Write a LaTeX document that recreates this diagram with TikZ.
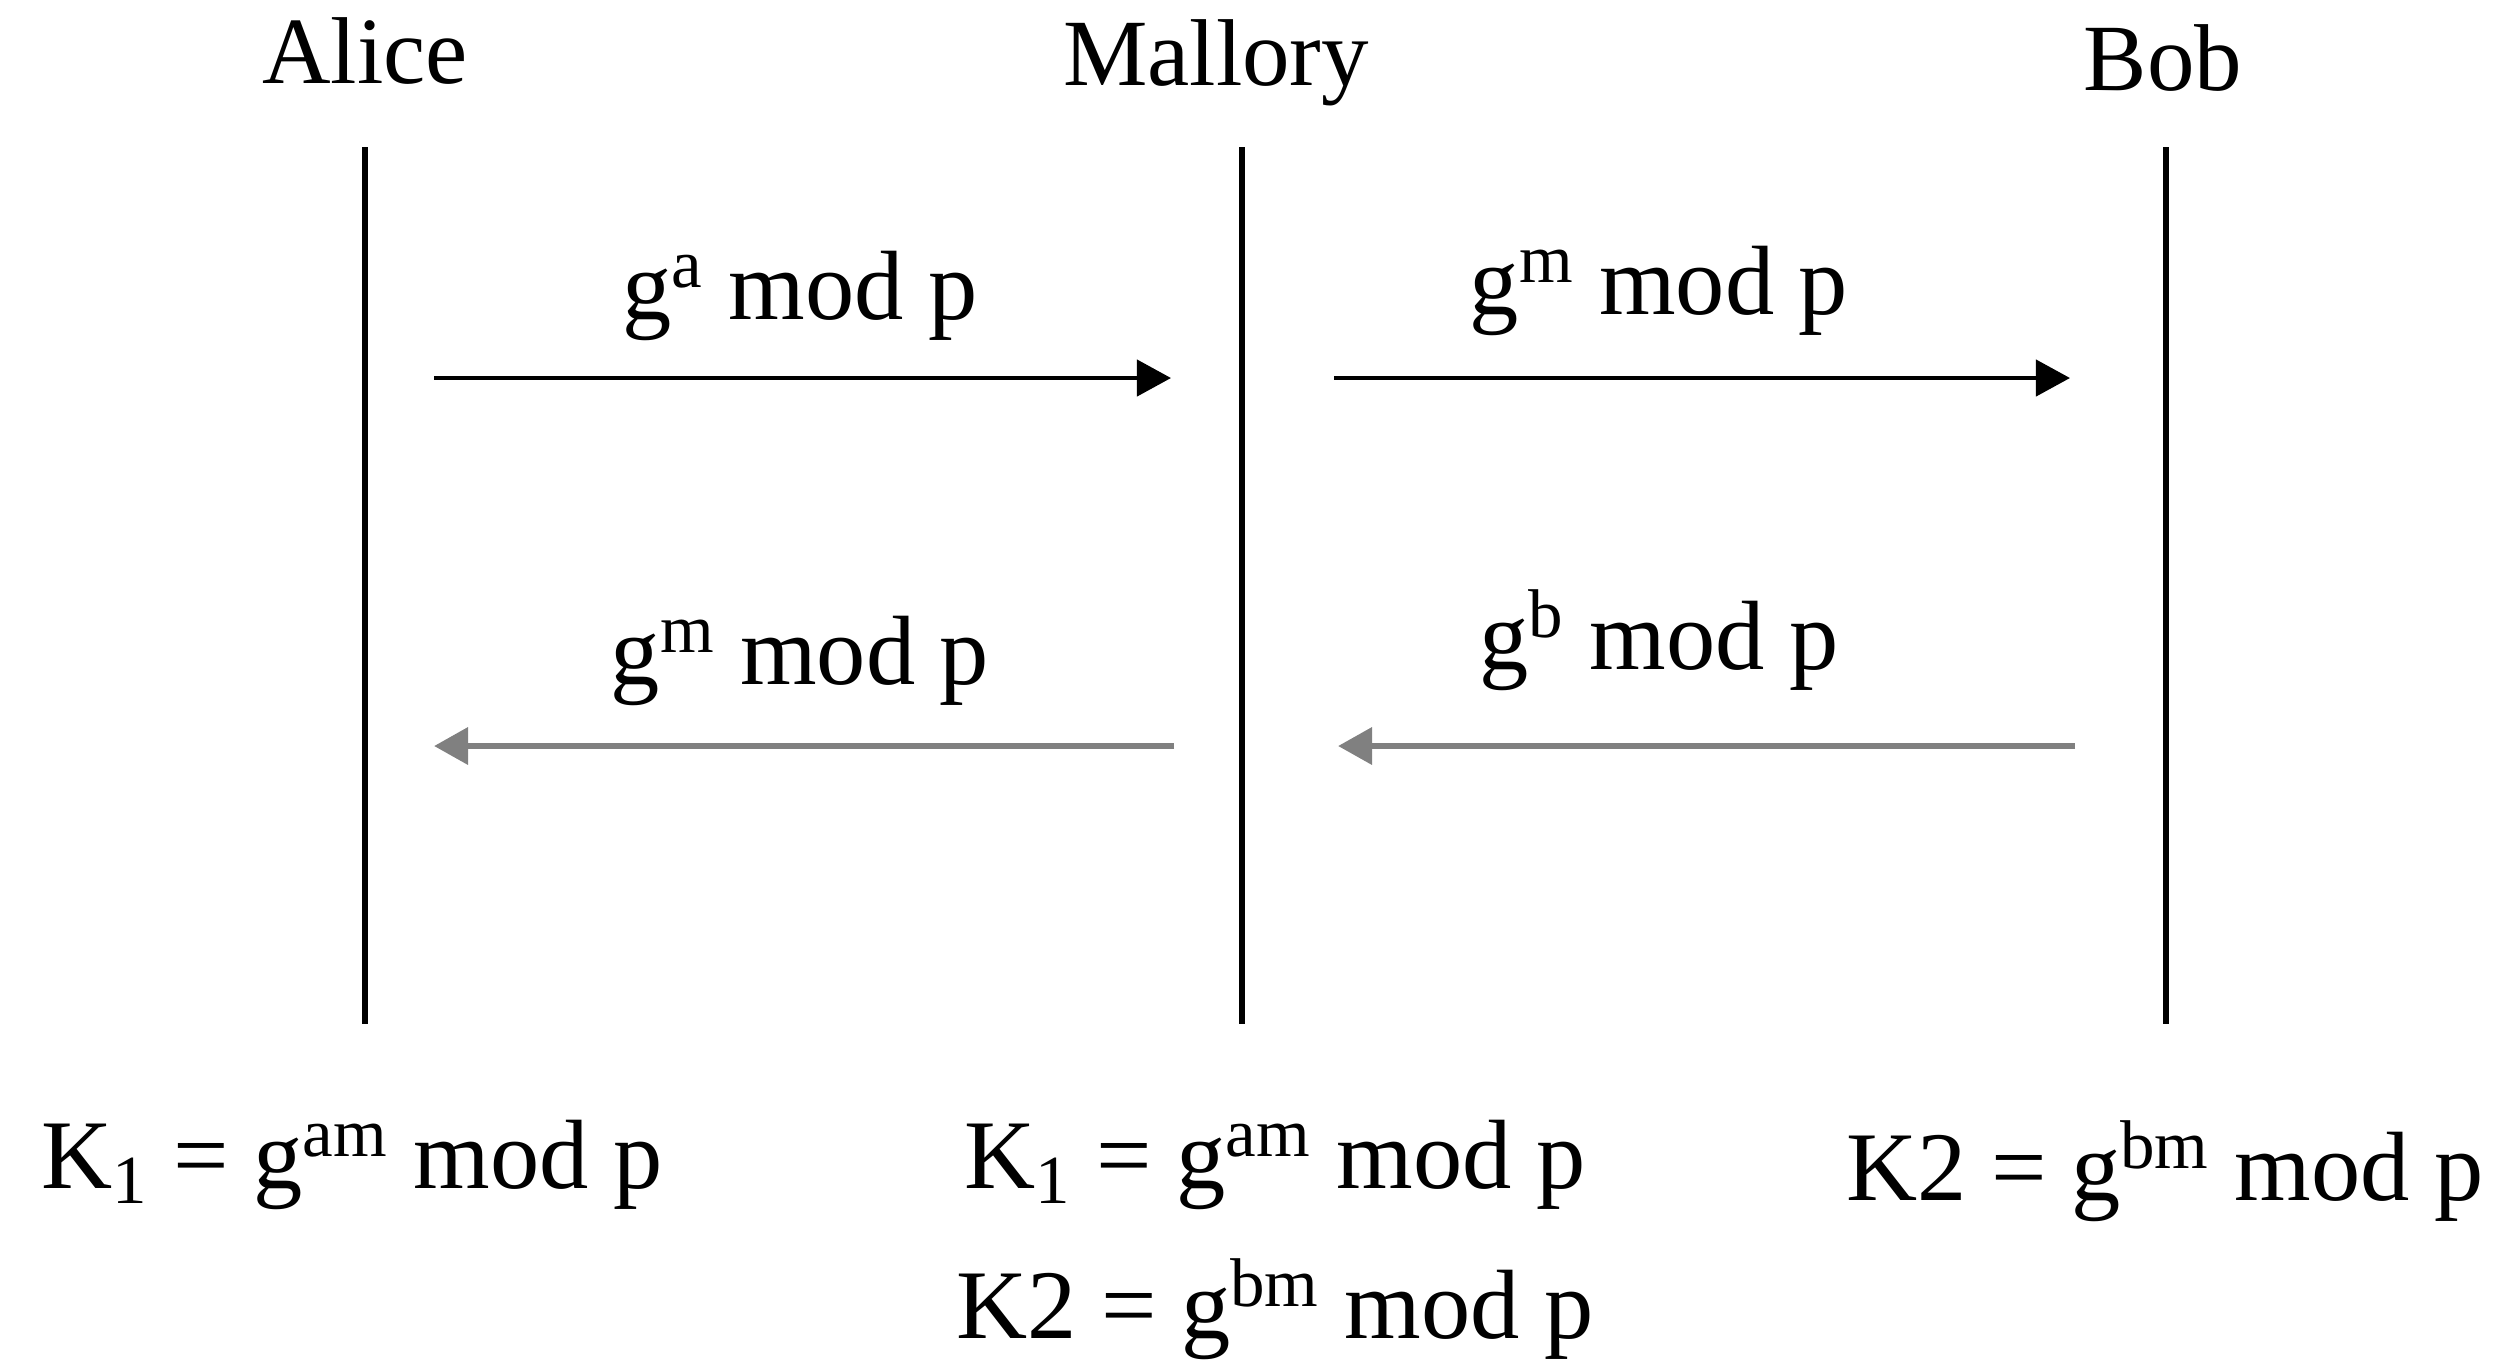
\documentclass[tikz,border=0pt]{standalone}
\usepackage{fontspec}
\setmainfont{Liberation Serif}
\usetikzlibrary{arrows.meta,positioning}

\begin{document}
\begin{tikzpicture}[
    x=0.01cm, y=-0.01cm,
    party/.style={
        font=\fontsize{27}{30}\selectfont,
        inner sep=0pt
    },
    msg/.style={
        font=\fontsize{28}{32}\selectfont,
        inner sep=0pt
    },
    key/.style={
        font=\fontsize{28}{32}\selectfont,
        inner sep=0pt
    },
    lifeline/.style={line width=1.45pt},
    sendarrow/.style={-{Triangle[length=0.34cm, width=0.36cm]}, line width=1.2pt},
    replyarrow/.style={-{Triangle[length=0.34cm, width=0.36cm]}, line width=1.9pt, draw=gray}
]
\useasboundingbox (0,0) rectangle (2508,1362);

% parties
\node[party] (alice) at (365,51) {Alice};
\node[party] (mallory) at (1216,63) {Mallory};
\node[party] (bob) at (2163,58) {Bob};

% lifelines
\coordinate (aliceTop) at (365,147);
\coordinate (aliceEnd) at (365,1024);
\coordinate (malloryTop) at (1242,147);
\coordinate (malloryEnd) at (1242,1024);
\coordinate (bobTop) at (2166,147);
\coordinate (bobEnd) at (2166,1024);
\draw[lifeline] (aliceTop) -- (aliceEnd);
\draw[lifeline] (malloryTop) -- (malloryEnd);
\draw[lifeline] (bobTop) -- (bobEnd);

% messages
\coordinate (sendA) at (434,378);
\coordinate (recvM) at (1171,378);
\coordinate (sendM) at (1334,378);
\coordinate (recvB) at (2070,378);
\coordinate (replyB) at (2075,746);
\coordinate (gotM) at (1338,746);
\coordinate (replyM) at (1174,746);
\coordinate (gotA) at (434,746);

\draw[sendarrow] (sendA) -- (recvM);
\draw[sendarrow] (sendM) -- (recvB);
\draw[replyarrow] (replyM) -- (gotA);
\draw[replyarrow] (replyB) -- (gotM);

\node[msg] (ga) at (800,296) {g\textsuperscript{a} mod p};
\node[msg] (gmB) at (1659,291) {g\textsuperscript{m} mod p};
\node[msg] (gmA) at (800,661) {g\textsuperscript{m} mod p};
\node[msg] (gb) at (1659,640) {g\textsuperscript{b} mod p};

% shared keys
\node[key] (keyA) at (352,1165) {K\textsubscript{1} = g\textsuperscript{am} mod p};
\node[key] (keyM1) at (1275,1165) {K\textsubscript{1} = g\textsuperscript{am} mod p};
\node[key] (keyM2) at (1275,1309) {K2 = g\textsuperscript{bm} mod p};
\node[key] (keyB) at (2165,1171) {K2 = g\textsuperscript{bm} mod p};
\end{tikzpicture}
\end{document}
